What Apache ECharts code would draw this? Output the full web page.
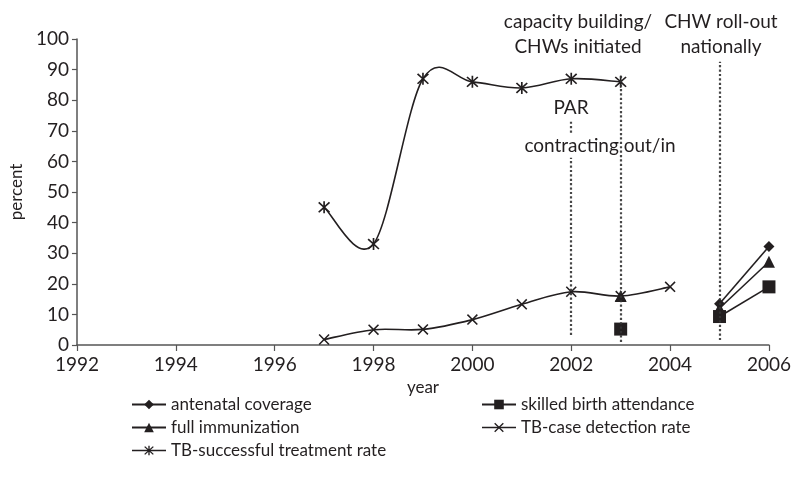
<!DOCTYPE html>
<html>
<head>
<meta charset="utf-8">
<script src="https://cdn.jsdelivr.net/npm/echarts@6/dist/echarts.min.js"></script>
<style>
  html, body { margin: 0; padding: 0; background: #fff; }
  #chart { width: 794px; height: 480px; }
</style>
</head>
<body>
<div id="chart"></div>
<script>
// x axis ticks
const yearMin = 1992
const yearMax = 2006

// series values, [year, percent]; '-' breaks the line
const antenatal = [[2005, 13.5], [2006, 32.2]]
const skilledBirth = [[2003, 5.2], [2004, '-'], [2005, 9.3], [2006, 19]]
const fullImmunization = [[2003, 16], [2004, '-'], [2005, 12], [2006, 27.2]]
const tbDetection = [[1997, 1.8], [1998, 5], [1999, 5.1], [2000, 8.3], [2001, 13.3], [2002, 17.4], [2003, 16], [2004, 19]]
const tbTreatment = [[1997, 45], [1998, 33], [1999, 87], [2000, 86], [2001, 84], [2002, 87], [2003, 86]]

// vertical event lines: [year, from, to]
const eventLines = [
  [2002, 3.3, 61.2],
  [2002, 69.4, 73.6],
  [2003, 1, 88.3],
  [2005, 1.6, 92.6]
]

const ink = '#231f20'
const font = 'Lato'
const lineW = 1.6

const crossPath = 'path://M0,1 L1,0 L5,4 L9,0 L10,1 L6,5 L10,9 L9,10 L5,6 L1,10 L0,9 L4,5 Z'
const starPath = 'path://M0,1 L1,0 L5,4 L9,0 L10,1 L6,5 L10,9 L9,10 L5,6 L1,10 L0,9 L4,5 Z M4.3,-0.5 L5.7,-0.5 L5.7,10.5 L4.3,10.5 Z'

function lineSeries(name, data, symbol, size, hideLine) {
  return {
    name: name,
    type: 'line',
    data: data,
    symbol: symbol,
    symbolSize: size,
    connectNulls: false,
    lineStyle: { color: ink, width: lineW, opacity: hideLine ? 0 : 1 },
    itemStyle: { color: ink, borderWidth: 0 },
    emphasis: { disabled: true },
    z: 3
  }
}

// spreadsheet-style smoothed line (catmull-rom to bezier) drawn through the axis scales
function smoothCurve(name, data) {
  return {
    name: name,
    type: 'custom',
    data: data,
    silent: true,
    z: 2,
    renderItem: function (params, api) {
      if (params.dataIndex !== 0) return null
      const p = data.map(d => api.coord(d))
      let path = 'M' + p[0][0] + ',' + p[0][1]
      for (let i = 0; i < p.length - 1; i++) {
        const a = p[i - 1] || p[i]
        const b = p[i]
        const c = p[i + 1]
        const d = p[i + 2] || p[i + 1]
        const c1 = [b[0] + (c[0] - a[0]) / 6, b[1] + (c[1] - a[1]) / 6]
        const c2 = [c[0] - (d[0] - b[0]) / 6, c[1] - (d[1] - b[1]) / 6]
        path += ' C' + c1.join(',') + ' ' + c2.join(',') + ' ' + c.join(',')
      }
      return {
        type: 'path',
        shape: { pathData: path },
        style: { stroke: ink, fill: 'none', lineWidth: lineW }
      }
    }
  }
}

const chart = echarts.init(document.getElementById('chart'))

const series = [
  lineSeries('antenatal coverage', antenatal, 'diamond', 11, false),
  lineSeries('skilled birth attendance', skilledBirth, 'rect', 13, false),
  lineSeries('full immunization', fullImmunization, 'triangle', 12, false),
  lineSeries('TB-case detection rate', tbDetection, crossPath, 11, true),
  lineSeries('TB-successful treatment rate', tbTreatment, starPath, 12, true),
  smoothCurve('tbDetectionCurve', tbDetection),
  smoothCurve('tbTreatmentCurve', tbTreatment)
]

series[3].markLine = {
  silent: true,
  symbol: 'none',
  label: { show: false },
  lineStyle: { color: '#333', type: 'dotted', width: 2.2, opacity: 0.9 },
  data: eventLines.map(l => [{ coord: [l[0], l[1]] }, { coord: [l[0], l[2]] }])
}

const legendText = { fontFamily: font, fontSize: 17, color: ink }
const legendLine = { color: ink, width: lineW, opacity: 1 }

function textMark(text, x, y) {
  return {
    type: 'text',
    style: { text: text, x: x, y: y, align: 'center', verticalAlign: 'middle', font: '19px Lato', fill: ink }
  }
}

chart.setOption({
  animation: false,
  grid: { left: 73, right: 23, top: 39, bottom: 135 },
  xAxis: {
    type: 'value',
    min: yearMin,
    max: yearMax,
    interval: 2,
    name: 'year',
    nameLocation: 'middle',
    nameGap: 33,
    nameTextStyle: { fontFamily: font, fontSize: 17, color: ink },
    axisLine: { lineStyle: { color: '#555', width: 1.5 } },
    axisTick: { show: true, inside: false, length: 6, lineStyle: { color: '#555', width: 1.2 } },
    axisLabel: { fontFamily: font, fontSize: 19, color: ink, margin: 10, formatter: v => String(v) },
    splitLine: { show: false }
  },
  yAxis: {
    type: 'value',
    min: 0,
    max: 100,
    interval: 10,
    name: 'percent',
    nameLocation: 'middle',
    nameGap: 48,
    nameTextStyle: { fontFamily: font, fontSize: 17, color: ink },
    axisLine: { show: true, lineStyle: { color: '#555', width: 1.5 } },
    axisTick: { show: true, length: 5, lineStyle: { color: '#555', width: 1.2 } },
    axisLabel: { fontFamily: font, fontSize: 19, color: ink, margin: 8 },
    splitLine: { show: false }
  },
  legend: [
    {
      orient: 'vertical',
      left: 126,
      top: 391,
      itemWidth: 34,
      itemHeight: 12,
      itemGap: 6,
      textStyle: legendText,
      selectedMode: false,
      data: [
        { name: 'antenatal coverage' },
        { name: 'full immunization' },
        { name: 'TB-successful treatment rate', lineStyle: legendLine }
      ]
    },
    {
      orient: 'vertical',
      left: 476,
      top: 391,
      itemWidth: 34,
      itemHeight: 12,
      itemGap: 6,
      textStyle: legendText,
      selectedMode: false,
      data: [
        { name: 'skilled birth attendance' },
        { name: 'TB-case detection rate', lineStyle: legendLine }
      ]
    }
  ],
  graphic: [
    textMark('capacity building/', 578, 22),
    textMark('CHWs initiated', 578, 47),
    textMark('CHW roll-out', 721, 22),
    textMark('nationally', 721, 47),
    textMark('PAR', 571, 108),
    textMark('contracting out/in', 600, 146)
  ],
  series: series
})
</script>
</body>
</html>
